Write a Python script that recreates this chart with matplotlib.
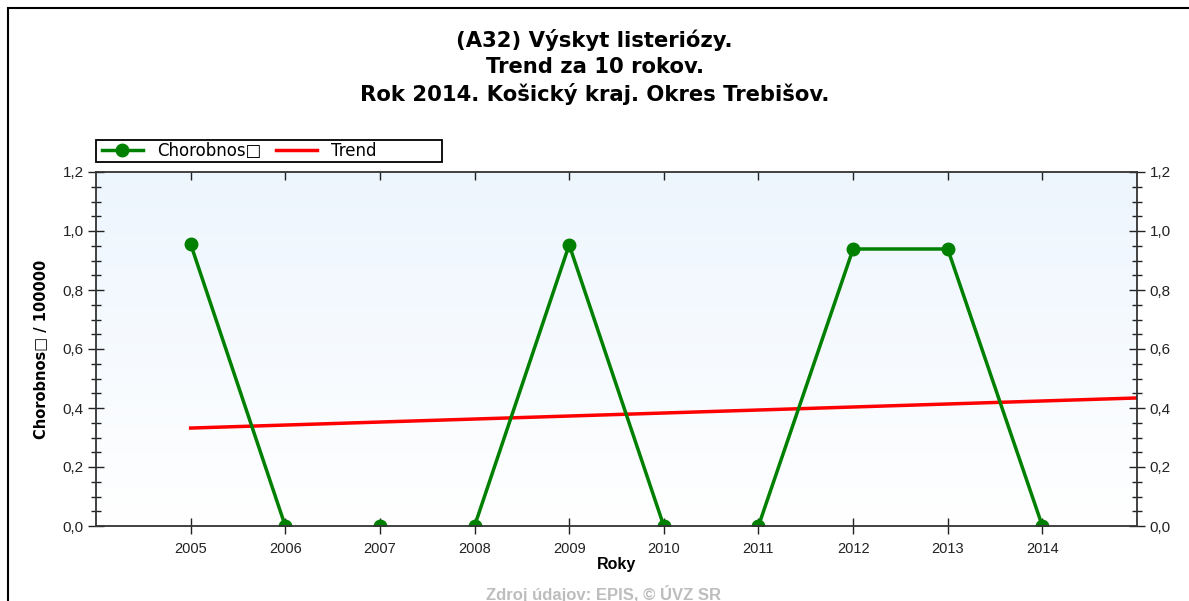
import matplotlib.pyplot as plt
import numpy as np
from matplotlib.lines import Line2D
from matplotlib.patches import Rectangle
from matplotlib.ticker import MultipleLocator, FuncFormatter

plt.rcParams['font.family'] = ['Liberation Sans', 'DejaVu Sans']

years = [2005, 2006, 2007, 2008, 2009, 2010, 2011, 2012, 2013, 2014]
chorobnost = [0.956, 0.0, 0.0, 0.0, 0.953, 0.0, 0.0, 0.939, 0.939, 0.0]
trend_years = [2005, 2015]
trend_vals = [0.332, 0.434]

W, H = 1189, 601
fig = plt.figure(figsize=(W / 100, H / 100), dpi=100)

# outer frame (top and left edge visible, rest runs off the picture)
fig.patches.append(Rectangle((8 / W, -0.1), 1.2, 1 - 8 / H + 0.1, transform=fig.transFigure,
                             fill=False, edgecolor='black', linewidth=1.5))

ax = fig.add_axes([96 / W, 1 - 526 / H, 1041 / W, 354 / H])

# light blue gradient background
grad = np.linspace(1, 0, 256).reshape(-1, 1)
top = np.array([0.93, 0.962, 0.995])
bottom = np.array([1.0, 1.0, 1.0])
img = bottom + (top - bottom) * grad[..., None]
ax.imshow(img, extent=[0, 1, 0, 1], transform=ax.transAxes, aspect='auto', zorder=0)

green = '#008000'
# line clipped just above the x axis so the zero stretches hide behind it
line, = ax.plot(years, chorobnost, color=green, linewidth=2.5, zorder=3)
clip = Rectangle((0, 2.5 / 354), 1, 1, transform=ax.transAxes, visible=False)
ax.add_patch(clip)
line.set_clip_path(clip)
ax.plot(years, chorobnost, linestyle='none', marker='o', markersize=9, color=green, zorder=3)
ax.plot(trend_years, trend_vals, color='#ff0000', linewidth=2.5, zorder=2)

ax.set_xlim(2004, 2015)
ax.set_ylim(0, 1.2)
ax.set_xticks(years)
ax.yaxis.set_major_locator(MultipleLocator(0.2))
ax.yaxis.set_minor_locator(MultipleLocator(0.05))
ax.yaxis.set_major_formatter(FuncFormatter(lambda v, p: f'{v:.1f}'.replace('.', ',')))

ax.tick_params(axis='x', direction='inout', length=11, width=1, labelsize=10.5, pad=6,
               colors='#222222')
ax.tick_params(axis='y', which='major', direction='inout', length=11, width=1, labelsize=11,
               left=True, right=True, labelright=True, colors='#222222')
ax.tick_params(axis='y', which='minor', direction='inout', length=7, width=1,
               left=True, right=True, colors='#222222')
top_ax = ax.secondary_xaxis('top')
top_ax.set_xticks(years)
top_ax.tick_params(direction='in', length=6, width=1, labeltop=False, colors='#222222')
top_ax.spines['top'].set_visible(False)
for s in ax.spines.values():
    s.set_color('#333333')
    s.set_linewidth(1.3)
    s.set_zorder(5)

ax.set_xlabel('Roky', fontsize=11.5, fontweight='bold', labelpad=1)
ax.set_ylabel('Chorobnos\u25a1 / 100000', fontsize=10.5, fontweight='bold', labelpad=10,
              family=['DejaVu Sans'])

for txt, yy in [('(A32) Výskyt listeriózy.', 40), ('Trend za 10 rokov.', 67),
                ('Rok 2014. Košický kraj. Okres Trebišov.', 94)]:
    fig.text(0.5, 1 - yy / H, txt, ha='center', va='center', fontsize=15.2,
             fontweight='bold', family=['DejaVu Sans'])
fig.text(604 / W, 1 - 594 / H, 'Zdroj údajov: EPIS, © ÚVZ SR', ha='center', va='center',
         fontsize=12, fontweight='bold', color='#bdbdbd')

# legend box above the plot
fig.patches.append(Rectangle((96 / W, 1 - 162 / H), 346 / W, 22 / H, transform=fig.transFigure,
                             fill=False, edgecolor='black', linewidth=1.3))
handles = [Line2D([], [], color=green, linewidth=2.5, marker='o', markersize=9),
           Line2D([], [], color='#ff0000', linewidth=2.5)]
leg = ax.legend(handles, ['Chorobnos\u25a1', 'Trend'], loc='center left', ncol=2, frameon=False,
                bbox_to_anchor=(96 / W, 1 - 151 / H), bbox_transform=fig.transFigure,
                borderaxespad=0, borderpad=0.35, prop={'family': ['DejaVu Sans'], 'size': 12},
                handlelength=2.46, columnspacing=0.9, handletextpad=0.84)

fig.savefig('out.png', dpi=100)
